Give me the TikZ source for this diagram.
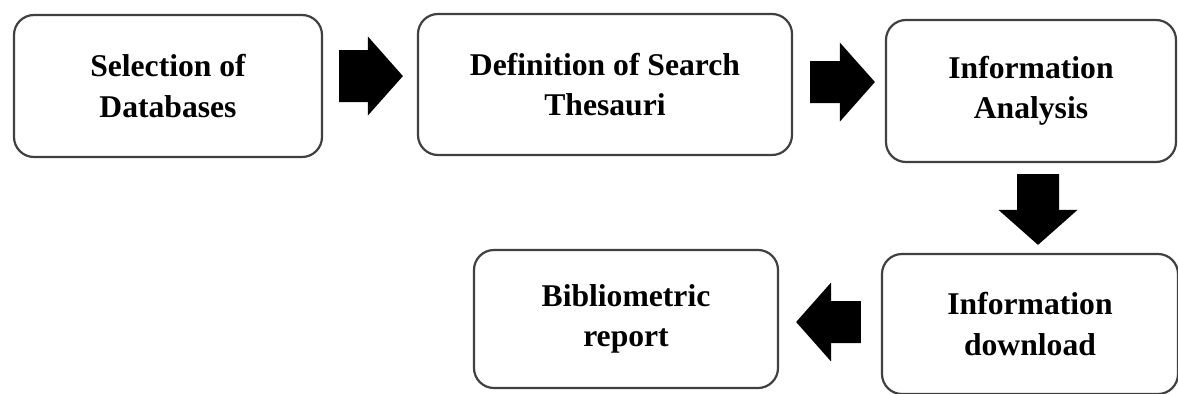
\documentclass[tikz,border=0pt]{standalone}
\usepackage{fontspec}
\setmainfont{Liberation Serif}
\usetikzlibrary{arrows.meta}

\begin{document}
\begin{tikzpicture}[x=0.25mm, y=-0.25mm,
    stage/.style={draw=black!75, line width=0.55mm, rounded corners=5mm,
        align=center, inner sep=0pt,
        font=\fontsize{22.5}{28.5}\selectfont\bfseries},
    bigarrow/.style={line width=10.5mm,
        -{Triangle[length=8.75mm, width=19.75mm, line width=0pt]}}]
    \useasboundingbox (0,0) rectangle (1178,393);
    \node[stage, minimum width=77mm, minimum height=35.5mm] (sel) at (168,86) {Selection of\\Databases};
    \node[stage, minimum width=93.5mm, minimum height=35.25mm] (def) at (605,84.5) {Definition of Search\\Thesauri};
    \node[stage, minimum width=72.5mm, minimum height=35.5mm] (ana) at (1031,91) {Information\\Analysis};
    \node[stage, minimum width=74mm, minimum height=35mm] (dow) at (1030,324) {Information\\download};
    \node[stage, minimum width=76mm, minimum height=34.5mm] (bib) at (626,319) {Bibliometric\\report};
    % block arrows between the stages
    \draw[bigarrow, line width=13mm, shorten <=4mm, shorten >=3.5mm] ([yshift=2.5mm]sel.east) -- ([yshift=2.1mm]def.west);
    \draw[bigarrow, shorten <=4.25mm, shorten >=2.5mm] ([yshift=0.6mm]def.east) -- ([yshift=2.25mm]ana.west);
    \draw[bigarrow, shorten <=2.75mm, shorten >=2mm] ([xshift=1.75mm]ana.south) -- ([xshift=2mm]dow.north);
    \draw[bigarrow, shorten <=5mm, shorten >=4.25mm] ([yshift=0.5mm]dow.west) -- ([yshift=-0.75mm]bib.east);
\end{tikzpicture}
\end{document}
